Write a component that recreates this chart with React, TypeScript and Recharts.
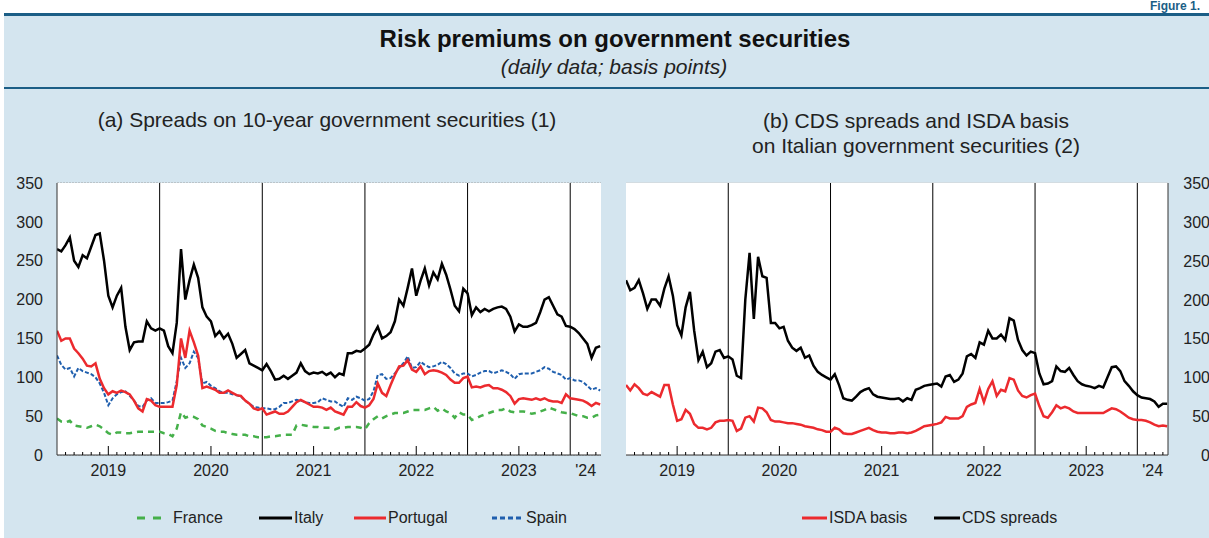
import React from 'react';
import { LineChart, Line, XAxis, YAxis, CartesianGrid, ReferenceLine } from 'recharts';

const FONT = '"Liberation Sans", Arial, Helvetica, sans-serif';
const BG = '#d4e5ef';
const RULE = '#1b5e86';

// semi-monthly observations, Jan 2019 – Apr 2024 (fraction of year)
const DATES = Array.from({ length: 128 }, (_, i) => 2019 + i / 24);
const DOMAIN: [number, number] = [2019, 2024.3];
const YEAR_LINES = [2020, 2021, 2022, 2023, 2024];
const Y_TICKS = [0, 50, 100, 150, 200, 250, 300, 350];

// month-start ticks (January is covered by the year separators)
const MONTH_TICKS: number[] = [];
for (let y = 2019; y <= 2024; y++) {
  for (let m = 1; m < 12; m++) {
    const t = y + m / 12;
    if (t <= DOMAIN[1]) MONTH_TICKS.push(t);
  }
}
const YEAR_LABELS = [
  { at: 2019.5, text: '2019' },
  { at: 2020.5, text: '2020' },
  { at: 2021.5, text: '2021' },
  { at: 2022.5, text: '2022' },
  { at: 2023.5, text: '2023' },
  { at: 2024.15, text: "'24" },
];
const X_TICKS = [...MONTH_TICKS, 2024.15];

// (a) 10-year spreads vs Bund, basis points
const FRANCE = [
  47, 43, 42, 44, 38, 37, 36, 35, 37, 39,
  37, 33, 28, 26, 29, 29, 28, 28, 29, 30,
  30, 30, 30, 30, 30, 28, 27, 24, 34, 55,
  48, 50, 49, 46, 38, 36, 34, 31, 30, 30,
  28, 27, 26, 26, 26, 24, 24, 23, 23, 23,
  24, 24, 25, 26, 26, 26, 38, 39, 38, 37,
  36, 36, 35, 35, 35, 33,
  35, 35, 36, 36, 36, 35, 33, 41, 46, 50,
  47, 50, 52, 54, 54, 54, 56, 58, 58, 58,
  58, 60, 62, 57, 60, 56, 54, 48, 55, 52,
  52, 45, 47, 50, 52, 54, 56, 58, 58, 60,
  56, 55, 56, 56, 55, 53, 54, 56, 58, 61,
  59, 57, 55, 54, 54, 52, 50, 50, 48, 48,
  51, 52,
];
const ITALY = [
  265, 262, 270, 280, 250, 242, 257, 253, 268, 283,
  285, 250, 205, 190, 205, 215, 165, 135, 145, 146,
  146, 172, 163, 160, 163, 160, 140, 131, 170, 265,
  200, 225, 245, 228, 190, 178, 172, 153, 159, 150,
  156, 143, 125, 130, 135, 118, 115, 112, 109, 117,
  108, 97, 98, 102, 98, 102, 106, 118, 108, 104,
  106, 105, 107, 103, 106, 100,
  105, 103, 131, 131, 134, 133, 137, 142, 155, 165,
  150, 153, 158, 172, 200, 192, 215, 240, 205, 224,
  240, 218, 235, 226, 246, 232, 213, 192, 185, 214,
  208, 180, 190, 184, 188, 185, 188, 190, 191, 188,
  178, 159, 168, 165, 165, 167, 170, 184, 200, 203,
  192, 181, 178, 166, 165, 162, 157, 150, 143, 125,
  138, 140,
];
const PORTUGAL = [
  160, 147, 150, 150, 137, 131, 124, 115, 114, 118,
  98, 86, 78, 82, 80, 83, 81, 78, 70, 60,
  56, 72, 70, 64, 62, 62, 62, 62, 90, 150,
  125, 160, 145, 128, 86, 88, 86, 84, 80, 80,
  83, 80, 77, 76, 70, 66, 60, 58, 60, 52,
  54, 56, 53, 53, 56, 62, 68, 71, 68, 65,
  62, 62, 61, 58, 61, 56,
  54, 52, 62, 62, 68, 63, 61, 64, 72, 92,
  80, 76, 90, 103, 114, 115, 122, 110, 107, 114,
  104, 108, 109, 108, 106, 103, 97, 93, 93, 99,
  101, 87, 88, 87, 89, 90, 86, 86, 84, 81,
  76, 66, 72, 73, 72, 71, 73, 71, 73, 70,
  69, 69, 67, 78, 73, 72, 71, 70, 67, 63,
  67, 65,
];
const SPAIN = [
  128, 116, 110, 112, 101, 112, 108, 106, 104, 100,
  92, 80, 64, 73, 78, 81, 82, 76, 70, 63,
  62, 70, 73, 67, 67, 67, 68, 70, 95, 125,
  112, 118, 133, 125, 92, 94, 89, 86, 82, 80,
  80, 78, 77, 75, 70, 66, 62, 61, 60, 60,
  59, 59, 62, 67, 67, 69, 71, 70, 68, 67,
  67, 68, 73, 71, 69, 69,
  65, 62, 73, 71, 75, 73, 70, 72, 82, 103,
  104, 98, 99, 105, 112, 118, 127, 112, 113, 120,
  116, 113, 114, 116, 120, 117, 112, 105, 102, 105,
  105, 101, 103, 106, 108, 108, 105, 107, 109, 107,
  104, 98, 104, 105, 105, 105, 107, 109, 113, 111,
  107, 105, 103, 97, 99, 96, 96, 94, 89, 84,
  86, 83,
];

// (b) Italian sovereign CDS and ISDA basis, basis points
const CDS = [
  225, 212, 215, 225, 208, 188, 200, 200, 192, 214,
  230, 205, 167, 154, 190, 210, 160, 122, 133, 113,
  118, 133, 135, 125, 127, 123, 102, 99, 200, 260,
  175, 255, 230, 228, 170, 170, 163, 165, 147, 138,
  134, 138, 125, 128, 115, 107, 103, 100, 97, 104,
  90, 73, 71, 70, 75, 81, 84, 86, 78, 75,
  74, 73, 72, 72, 73, 69,
  73, 71, 84, 86, 89, 90, 91, 92, 88, 101,
  103, 94, 97, 105, 127, 130, 125, 145, 142, 160,
  150, 150, 155, 148, 176, 173, 148, 135, 128, 133,
  131, 105, 91, 92, 95, 114, 108, 107, 112, 103,
  95, 91, 89, 88, 86, 89, 87, 100, 113, 114,
  108, 95, 89, 82, 77, 74, 73, 72, 69, 62,
  66, 66,
];
const ISDA = [
  90, 83, 91, 86, 79, 77, 81, 78, 75, 90,
  90, 65, 44, 46, 58, 53, 40, 35, 35, 33,
  35, 42, 44, 44, 45, 44, 31, 34, 48, 50,
  43, 61, 60, 55, 45, 43, 43, 42, 41, 41,
  40, 39, 37, 36, 35, 33, 32, 30, 30, 35,
  33, 28, 27, 27, 29, 31, 33, 35, 32, 30,
  29, 29, 28, 28, 29, 29,
  28, 29, 31, 34, 37, 38, 39, 40, 42, 49,
  47, 47, 47, 50, 62, 65, 67, 85, 68, 85,
  95, 76, 84, 82, 99, 97, 83, 76, 74, 77,
  79, 63, 50, 48, 55, 64, 60, 62, 60, 56,
  54, 54, 54, 54, 54, 54, 54, 57, 60, 59,
  56, 52, 48, 46, 45, 45, 44, 42, 39, 37,
  38, 37,
];

const spreadRows = DATES.map((t, i) => ({
  t,
  france: FRANCE[i],
  italy: ITALY[i],
  portugal: PORTUGAL[i],
  spain: SPAIN[i],
}));
const cdsRows = DATES.map((t, i) => ({ t, isda: ISDA[i], cds: CDS[i] }));

const GREEN = '#45b04a';
const RED = '#ec2a2e';
const BLUE = '#1f5fae';

const TimeTick = (props: any) => {
  const { x, y, payload } = props;
  const v = payload.value as number;
  const label = YEAR_LABELS.find((l) => Math.abs(l.at - v) < 1e-6);
  const isMonth = MONTH_TICKS.some((t) => Math.abs(t - v) < 1e-6);
  const isJuly = Math.abs(v - Math.floor(v) - 0.5) < 1e-6;
  return (
    <g>
      {isMonth && <line x1={x} x2={x} y1={y} y2={y - (isJuly ? 9 : 3)} stroke="#000" strokeWidth={1} />}
      {label && (
        <text x={x} y={y + 21} textAnchor="middle" fontSize={16} fill="#222" fontFamily={FONT}>
          {label.text}
        </text>
      )}
    </g>
  );
};

const RightValueTick = (props: any) => {
  const { x, y, payload } = props;
  return (
    <text x={x + 42} y={y} dy={6} textAnchor="end" fontSize={16} fill="#222" fontFamily={FONT}>
      {payload.value}
    </text>
  );
};

const frame = { stroke: '#333', strokeWidth: 1 };

const LegendItem = ({ left, label, color, dash, width = 32, gap = 2 }: any) => (
  <div style={{ position: 'absolute', left, top: 507, height: 22, display: 'flex', alignItems: 'center' }}>
    <svg width={width} height={6}>
      <line x1={0} x2={width} y1={3} y2={3} stroke={color} strokeWidth={3} strokeDasharray={dash} />
    </svg>
    <span style={{ marginLeft: gap, fontSize: 16, color: '#222', whiteSpace: 'nowrap' }}>{label}</span>
  </div>
);

const App = () => (
  <div
    style={{
      position: 'absolute',
      left: 0,
      top: 0,
      width: 1209,
      height: 538,
      background: '#fff',
      overflow: 'hidden',
      fontFamily: FONT,
    }}
  >
    <div style={{ position: 'absolute', left: 4, top: 13, right: 0, bottom: 0, background: BG }} />
    <div style={{ position: 'absolute', left: 4, top: 13, right: 0, height: 3, background: RULE }} />
    <div style={{ position: 'absolute', left: 4, top: 87, right: 0, height: 2, background: RULE }} />
    <div
      style={{
        position: 'absolute',
        left: 1150,
        top: 0,
        fontSize: 12,
        lineHeight: '12px',
        fontWeight: 'bold',
        color: RULE,
        whiteSpace: 'nowrap',
      }}
    >
      Figure 1.
    </div>

    <div
      style={{
        position: 'absolute',
        left: 315,
        width: 600,
        top: 25,
        textAlign: 'center',
        fontSize: 24,
        fontWeight: 'bold',
        color: '#111',
        whiteSpace: 'nowrap',
      }}
    >
      Risk premiums on government securities
    </div>
    <div
      style={{
        position: 'absolute',
        left: 314,
        width: 600,
        top: 55,
        textAlign: 'center',
        fontSize: 21,
        fontStyle: 'italic',
        color: '#222',
        whiteSpace: 'nowrap',
      }}
    >
      (daily data; basis points)
    </div>

    <div
      style={{
        position: 'absolute',
        left: 27,
        width: 600,
        top: 108,
        textAlign: 'center',
        fontSize: 21,
        color: '#222',
        whiteSpace: 'nowrap',
      }}
    >
      (a) Spreads on 10-year government securities (1)
    </div>
    <div
      style={{
        position: 'absolute',
        left: 616,
        width: 600,
        top: 108,
        textAlign: 'center',
        fontSize: 21,
        lineHeight: '25px',
        color: '#222',
        whiteSpace: 'nowrap',
      }}
    >
      (b) CDS spreads and ISDA basis
      <br />
      on Italian government securities (2)
    </div>

    {/* panel (a) */}
    <div style={{ position: 'absolute', left: 0, top: 170 }}>
      <LineChart width={601} height={315} data={spreadRows} margin={{ top: 13, right: 0, bottom: 0, left: 0 }}>
        <rect x={57} y={13} width={544} height={272} fill="#fff" />
        <CartesianGrid vertical={false} stroke="#a3a3a3" strokeDasharray="2 1" />
        <XAxis
          dataKey="t"
          type="number"
          domain={DOMAIN}
          allowDataOverflow
          ticks={X_TICKS}
          interval={0}
          tick={<TimeTick />}
          tickLine={false}
          tickSize={0}
          tickMargin={0}
          axisLine={frame}
          height={30}
        />
        <XAxis xAxisId="top" orientation="top" type="number" domain={DOMAIN} height={0} tick={false} tickLine={false} axisLine={{ stroke: '#888', strokeWidth: 1 }} />
        <YAxis
          domain={[0, 350]}
          ticks={Y_TICKS}
          interval={0}
          width={57}
          tickSize={0}
          tickMargin={14}
          tickLine={false}
          axisLine={frame}
          tick={{ fontSize: 16, fill: '#222', fontFamily: FONT }}
        />
        <YAxis yAxisId="frame" orientation="right" domain={[0, 350]} width={0} tick={false} tickLine={false} axisLine={{ stroke: '#666', strokeWidth: 1 }} />
        {YEAR_LINES.map((yr) => (
          <ReferenceLine key={yr} x={yr} stroke="#000" strokeWidth={1} />
        ))}
        <Line dataKey="france" stroke={GREEN} strokeWidth={2.5} strokeDasharray="6 5" dot={false} activeDot={false} isAnimationActive={false} />
        <Line dataKey="spain" stroke={BLUE} strokeWidth={2} strokeDasharray="4 2" dot={false} activeDot={false} isAnimationActive={false} />
        <Line dataKey="portugal" stroke={RED} strokeWidth={2.5} dot={false} activeDot={false} isAnimationActive={false} />
        <Line dataKey="italy" stroke="#000" strokeWidth={2.5} dot={false} activeDot={false} isAnimationActive={false} />
      </LineChart>
    </div>

    {/* panel (b) */}
    <div style={{ position: 'absolute', left: 600, top: 170 }}>
      <LineChart width={609} height={315} data={cdsRows} margin={{ top: 13, right: 0, bottom: 0, left: 26 }}>
        <rect x={26} y={13} width={542} height={272} fill="#fff" />
        <CartesianGrid vertical={false} stroke="#d2d2d2" />
        <XAxis
          dataKey="t"
          type="number"
          domain={DOMAIN}
          allowDataOverflow
          ticks={X_TICKS}
          interval={0}
          tick={<TimeTick />}
          tickLine={false}
          tickSize={0}
          tickMargin={0}
          axisLine={frame}
          height={30}
        />
        <XAxis xAxisId="top" orientation="top" type="number" domain={DOMAIN} height={0} tick={false} tickLine={false} axisLine={frame} />
        <YAxis
          orientation="right"
          domain={[0, 350]}
          ticks={Y_TICKS}
          interval={0}
          width={41}
          tickSize={0}
          tickMargin={0}
          tickLine={false}
          axisLine={frame}
          tick={<RightValueTick />}
        />
        <YAxis yAxisId="frame" orientation="left" domain={[0, 350]} width={0} tick={false} tickLine={false} axisLine={frame} />
        {YEAR_LINES.map((yr) => (
          <ReferenceLine key={yr} x={yr} stroke="#000" strokeWidth={1} />
        ))}
        <Line dataKey="isda" stroke={RED} strokeWidth={2.5} dot={false} activeDot={false} isAnimationActive={false} />
        <Line dataKey="cds" stroke="#000" strokeWidth={2.5} dot={false} activeDot={false} isAnimationActive={false} />
      </LineChart>
    </div>

    <LegendItem left={137} label="France" color={GREEN} dash="8 8" width={26} gap={10} />
    <LegendItem left={259} label="Italy" color="#000" width={33} />
    <LegendItem left={354} label="Portugal" color={RED} width={32} />
    <LegendItem left={492} label="Spain" color={BLUE} dash="5 3" width={31} gap={3} />
    <LegendItem left={802} label="ISDA basis" color={RED} width={25} />
    <LegendItem left={934} label="CDS spreads" color="#000" width={26} />
  </div>
);

export default App;
